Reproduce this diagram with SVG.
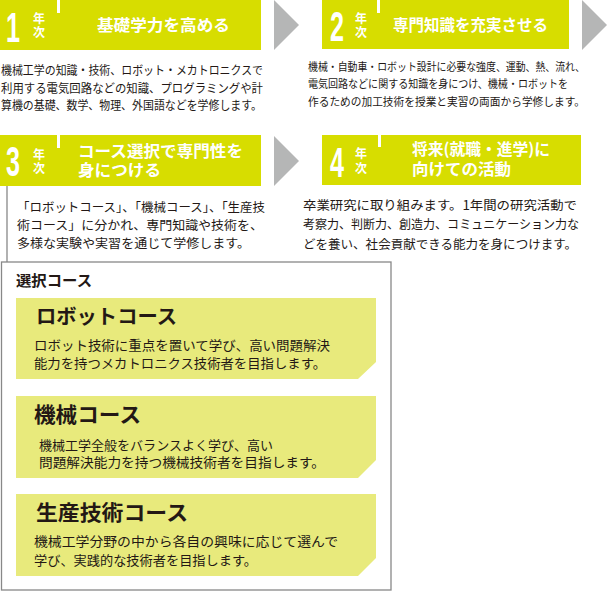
<svg xmlns="http://www.w3.org/2000/svg" width="609" height="592" viewBox="0 0 609 592">
<style>
.hdr{fill:#D7DD00}
.tick{fill:#ffffff}
.num{font-family:"Liberation Sans",sans-serif;font-size:42px;font-weight:700;fill:#ffffff}
.nen{font-family:"Noto Sans CJK JP",sans-serif;font-size:12px;font-weight:700;fill:#ffffff;text-anchor:middle}
.ttl{font-family:"Noto Sans CJK JP",sans-serif;font-size:16px;font-weight:700;fill:#ffffff}
.body{font-family:"Noto Sans CJK JP",sans-serif;font-size:12px;fill:#231815}
.arr{fill:#B5B6B6}
.panel{fill:#E8EA7C}
.ctitle{font-family:"Noto Sans CJK JP",sans-serif;font-size:20px;font-weight:700;fill:#231815}
.ctext{font-family:"Noto Sans CJK JP",sans-serif;font-size:13px;fill:#231815}
</style>

<g id="connectors">
  <polygon class="arr" points="274,0 299,25 274,50"/>
  <polygon class="arr" points="582,0 607,25 582,50"/>
  <polygon class="arr" points="274,136 299,161 274,186"/>
  <line x1="7" y1="186" x2="7" y2="262" stroke="#888888" stroke-width="1.3"/>
</g>

<g id="year1">
  <rect class="hdr" x="0" y="0" width="261" height="50"/>
  <rect class="tick" x="57" y="0" width="3" height="13"/>
  <text class="num" transform="translate(6,42) scale(0.6,1)">1</text>
  <text class="nen"><tspan x="39" y="23">年</tspan><tspan x="39" y="37">次</tspan></text>
  <text class="ttl" x="97" y="31" textLength="133" lengthAdjust="spacingAndGlyphs">基礎学力を高める</text>
  <text class="body" x="1" y="75" textLength="262" lengthAdjust="spacingAndGlyphs">機械工学の知識・技術、ロボット・メカトロニクスで</text>
  <text class="body" x="1" y="92.5" textLength="262" lengthAdjust="spacingAndGlyphs">利用する電気回路などの知識、プログラミングや計</text>
  <text class="body" x="1" y="110" textLength="261" lengthAdjust="spacingAndGlyphs">算機の基礎、数学、物理、外国語などを学修します。</text>
</g>

<g id="year2">
  <rect class="hdr" x="322" y="0" width="247" height="49"/>
  <rect class="tick" x="377" y="0" width="3" height="13"/>
  <text class="num" transform="translate(330,41) scale(0.6,1)">2</text>
  <text class="nen"><tspan x="361" y="23">年</tspan><tspan x="361" y="37">次</tspan></text>
  <text class="ttl" x="393" y="31" textLength="155" lengthAdjust="spacingAndGlyphs">専門知識を充実させる</text>
  <text class="body" x="308" y="70.5" textLength="277" lengthAdjust="spacingAndGlyphs" style="font-size:11px">機械・自動車・ロボット設計に必要な強度、運動、熱、流れ、</text>
  <text class="body" x="308" y="88" textLength="260" lengthAdjust="spacingAndGlyphs" style="font-size:11px">電気回路などに関する知識を身につけ、機械・ロボットを</text>
  <text class="body" x="308" y="105.5" textLength="277" lengthAdjust="spacingAndGlyphs" style="font-size:11px">作るための加工技術を授業と実習の両面から学修します。</text>
</g>

<g id="year3">
  <rect class="hdr" x="0" y="135" width="261" height="51"/>
  <rect class="tick" x="57" y="135" width="3" height="13"/>
  <text class="num" transform="translate(6,175.5) scale(0.6,1)">3</text>
  <text class="nen"><tspan x="39" y="159">年</tspan><tspan x="39" y="173">次</tspan></text>
  <text class="ttl"><tspan x="78" y="157" textLength="165" lengthAdjust="spacingAndGlyphs">コース選択で専門性を</tspan><tspan x="78" y="176" textLength="83" lengthAdjust="spacingAndGlyphs">身につける</tspan></text>
  <text class="body" x="17" y="212" textLength="248" lengthAdjust="spacingAndGlyphs" style="font-size:12.5px">「ロボットコース」、「機械コース」、「生産技</text>
  <text class="body" x="17" y="229.5" textLength="246" lengthAdjust="spacingAndGlyphs" style="font-size:12.5px">術コース」に分かれ、専門知識や技術を、</text>
  <text class="body" x="17" y="247.5" textLength="233" lengthAdjust="spacingAndGlyphs" style="font-size:12.5px">多様な実験や実習を通じて学修します。</text>
</g>

<g id="year4">
  <rect class="hdr" x="322" y="135" width="259" height="50"/>
  <rect class="tick" x="378" y="135" width="3" height="12"/>
  <text class="num" transform="translate(330,177) scale(0.6,1)">4</text>
  <text class="nen"><tspan x="361" y="158">年</tspan><tspan x="361" y="173">次</tspan></text>
  <text class="ttl"><tspan x="412" y="155" textLength="138" lengthAdjust="spacingAndGlyphs">将来(就職・進学)に</tspan><tspan x="412" y="175" textLength="99" lengthAdjust="spacingAndGlyphs">向けての活動</tspan></text>
  <text class="body" x="303" y="209.5" textLength="274" lengthAdjust="spacingAndGlyphs" style="font-size:12.5px">卒業研究に取り組みます。1年間の研究活動で</text>
  <text class="body" x="303" y="229" textLength="276" lengthAdjust="spacingAndGlyphs" style="font-size:12.5px">考察力、判断力、創造力、コミュニケーション力な</text>
  <text class="body" x="303" y="248.5" textLength="274" lengthAdjust="spacingAndGlyphs" style="font-size:12.5px">どを養い、社会貢献できる能力を身につけます。</text>
</g>

<g id="courses">
  <rect x="1.5" y="262" width="389.5" height="328" fill="#ffffff" stroke="#888888" stroke-width="1.3"/>
  <text x="16" y="285.5" style="font-family:'Noto Sans CJK JP',sans-serif;font-size:15px;font-weight:700;fill:#231815" textLength="76" lengthAdjust="spacingAndGlyphs">選択コース</text>
</g>

<g id="robot-course">
  <polygon class="panel" points="16,298 376,298 376,362 358,379 16,379"/>
  <text class="ctitle" x="36" y="323.5" textLength="141" lengthAdjust="spacingAndGlyphs">ロボットコース</text>
  <text class="ctext" x="34" y="350" textLength="296" lengthAdjust="spacingAndGlyphs">ロボット技術に重点を置いて学び、高い問題解決</text>
  <text class="ctext" x="34" y="368" textLength="292" lengthAdjust="spacingAndGlyphs">能力を持つメカトロニクス技術者を目指します。</text>
</g>

<g id="kikai-course">
  <polygon class="panel" points="16,396 376,396 376,460 358,478 16,478"/>
  <text class="ctitle" x="34" y="422" textLength="107" lengthAdjust="spacingAndGlyphs" style="font-size:21px">機械コース</text>
  <text class="ctext" x="39" y="449.5" textLength="234" lengthAdjust="spacingAndGlyphs">機械工学全般をバランスよく学び、高い</text>
  <text class="ctext" x="39" y="466.5" textLength="286" lengthAdjust="spacingAndGlyphs">問題解決能力を持つ機械技術者を目指します。</text>
</g>

<g id="seisan-course">
  <polygon class="panel" points="16,494 376,494 376,558 358,576 16,576"/>
  <text class="ctitle" x="36" y="520" textLength="152" lengthAdjust="spacingAndGlyphs" style="font-size:21px">生産技術コース</text>
  <text class="ctext" x="34" y="546" textLength="304" lengthAdjust="spacingAndGlyphs">機械工学分野の中から各自の興味に応じて選んで</text>
  <text class="ctext" x="34" y="564.5" textLength="223" lengthAdjust="spacingAndGlyphs">学び、実践的な技術者を目指します。</text>
</g>
</svg>
